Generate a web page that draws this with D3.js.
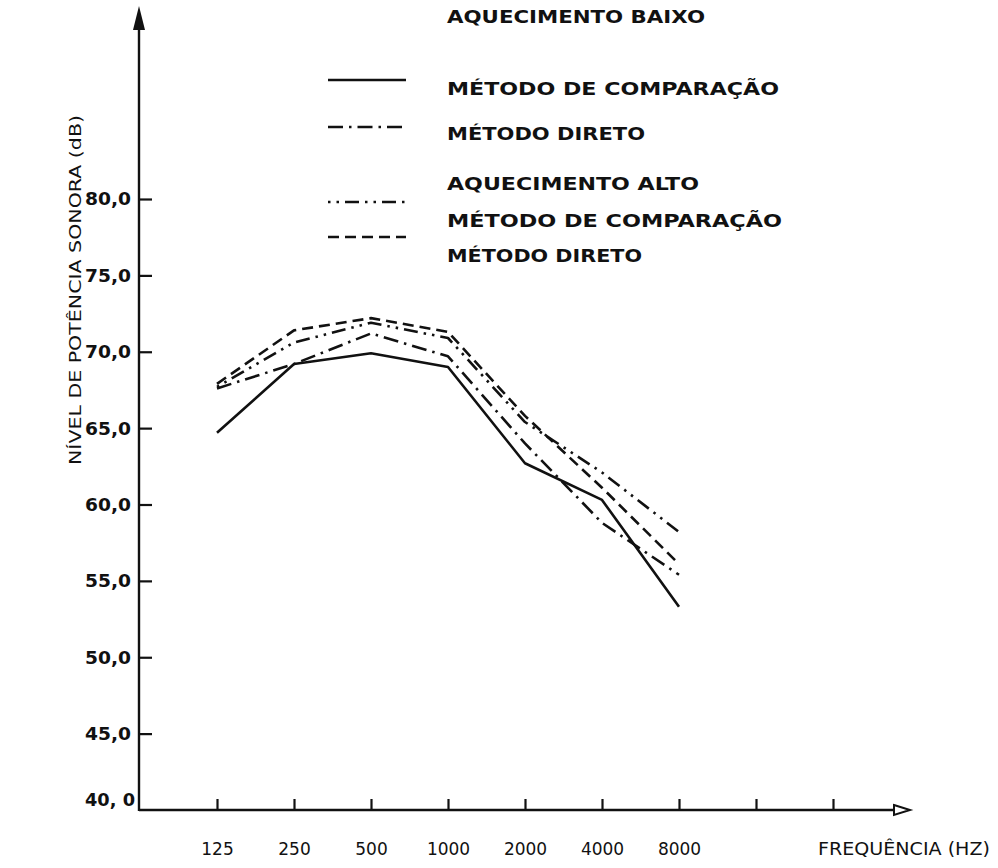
<!DOCTYPE html>
<html>
<head>
<meta charset="utf-8">
<script src="https://cdn.jsdelivr.net/npm/d3@7"></script>
<style>
  html, body { margin: 0; padding: 0; background: #fff; }
  svg { display: block; }
  text { font-family: "DejaVu Sans", sans-serif; fill: #111; }
</style>
</head>
<body>
<svg id="chart" width="998" height="868"></svg>
<script>
// Frequency bands (Hz) and the extra unlabelled ticks on the axis
const freqLabels = ["125", "250", "500", "1000", "2000", "4000", "8000"];
const xTickLabels = ["125", "250", "500", "1000", "2000", "4000", "8000", "", ""];
const yTickValues = [40, 45, 50, 55, 60, 65, 70, 75, 80];

// Sound power level (dB) per band
const baixoComparacao = [64.7, 69.2, 69.9, 69.0, 62.7, 60.3, 53.3];
const baixoDireto     = [67.6, 69.2, 71.2, 69.7, 64.0, 58.8, 55.4];
const altoComparacao  = [67.7, 70.6, 71.9, 70.9, 65.4, 62.1, 58.2];
const altoDireto      = [67.9, 71.4, 72.2, 71.3, 65.8, 61.1, 56.1];

const seriesNames = ["baixoComparacao", "baixoDireto", "altoComparacao", "altoDireto"];
const legendGroups = ["AQUECIMENTO  BAIXO", "AQUECIMENTO  ALTO"];
const legendLabels = ["MÉTODO  DE  COMPARAÇÃO", "MÉTODO  DIRETO", "MÉTODO  DE  COMPARAÇÃO", "MÉTODO  DIRETO"];

const series = [
  { name: seriesNames[0], values: baixoComparacao, dash: null },
  { name: seriesNames[1], values: baixoDireto,     dash: "15,6,2.5,6" },
  { name: seriesNames[2], values: altoComparacao,  dash: "2.5,6,2.5,6,14,6" },
  { name: seriesNames[3], values: altoDireto,      dash: "11,6" }
];

const svg = d3.select("#chart");

const x = d3.scaleLinear().domain([0, xTickLabels.length - 1]).range([217, 833]);
const y = d3.scaleLinear().domain([40, 80]).range([810, 199]);
const x0 = 139;

// Y axis with inward ticks
const yAxis = d3.axisLeft(y)
  .tickValues(yTickValues.filter(v => v > 40))
  .tickSize(-13)
  .tickSizeOuter(0)
  .tickPadding(20)
  .tickFormat(v => d3.format(".1f")(v).replace(".", ","));

const gy = svg.append("g").attr("transform", `translate(${x0},0)`).call(yAxis);
gy.select(".domain").remove();
gy.selectAll(".tick line").attr("stroke", "#111").attr("stroke-width", 2.2);
gy.selectAll(".tick text")
  .style("font-size", "17px").style("font-weight", "bold")
  .attr("x", -8).attr("dy", "0.35em")
  .attr("textLength", 46).attr("lengthAdjust", "spacingAndGlyphs");

// Origin label
svg.append("text")
  .attr("x", x0 - 4).attr("y", y(40) - 4)
  .attr("text-anchor", "end")
  .style("font-size", "17px").style("font-weight", "bold")
  .attr("textLength", 50).attr("lengthAdjust", "spacingAndGlyphs")
  .text(d3.format(".1f")(yTickValues[0]).replace(".", ", "));

// Vertical axis line with arrow
svg.append("line").attr("x1", x0).attr("x2", x0).attr("y1", y(40) + 1).attr("y2", 22)
  .attr("stroke", "#111").attr("stroke-width", 2.4);
svg.append("path").attr("d", `M${x0},6 L${x0 - 6},30 L${x0 + 6},30 Z`).attr("fill", "#111");

// X axis with upward ticks
const xAxis = d3.axisBottom(x)
  .tickValues(d3.range(xTickLabels.length))
  .tickSize(-11)
  .tickSizeOuter(0)
  .tickFormat(i => xTickLabels[i]);

const gx = svg.append("g").attr("transform", `translate(0,${y(40)})`).call(xAxis);
gx.select(".domain").remove();
gx.selectAll(".tick line").attr("stroke", "#111").attr("stroke-width", 2.2);
gx.selectAll(".tick text")
  .style("font-size", "17px")
  .attr("y", 45).attr("dy", "0");

svg.append("line").attr("x1", x0).attr("x2", 896).attr("y1", y(40)).attr("y2", y(40))
  .attr("stroke", "#111").attr("stroke-width", 2.6);
svg.append("path").attr("d", `M894,${y(40) - 5} L910,${y(40)} L894,${y(40) + 5} Z`)
  .attr("fill", "#fff").attr("stroke", "#111").attr("stroke-width", 2);

svg.append("text").attr("x", 818).attr("y", 855)
  .style("font-size", "17px")
  .attr("textLength", 172).attr("lengthAdjust", "spacingAndGlyphs")
  .text("FREQUÊNCIA (HZ)");

// Y axis title
svg.append("text")
  .attr("transform", "translate(81,290) rotate(-90)")
  .attr("text-anchor", "middle")
  .style("font-size", "16px")
  .attr("textLength", 350).attr("lengthAdjust", "spacingAndGlyphs")
  .text("NÍVEL DE POTÊNCIA SONORA  (dB)");

// Curves
const line = d3.line()
  .x((d, i) => x(i))
  .y(d => y(d));

svg.append("g").selectAll("path")
  .data(series)
  .join("path")
  .attr("d", d => line(d.values))
  .attr("fill", "none")
  .attr("stroke", "#111")
  .attr("stroke-width", 2.6)
  .attr("stroke-linejoin", "round")
  .attr("stroke-dasharray", d => d.dash);

// Legend
const legendRows = [
  { type: "group", text: legendGroups[0], y: 23 },
  { type: "item", s: 0, text: legendLabels[0], y: 95, ly: 80 },
  { type: "item", s: 1, text: legendLabels[1], y: 140, ly: 127 },
  { type: "group", text: legendGroups[1], y: 190 },
  { type: "item", s: 2, text: legendLabels[2], y: 227, ly: 202 },
  { type: "item", s: 3, text: legendLabels[3], y: 262, ly: 237 }
];
const widths = [258, 332, 198, 252, 335, 195];

const lg = svg.append("g");
legendRows.forEach((r, i) => {
  lg.append("text").attr("x", 447).attr("y", r.y)
    .style("font-size", "17px").style("font-weight", r.type === "group" ? "bold" : "bold")
    .attr("textLength", widths[i]).attr("lengthAdjust", "spacingAndGlyphs")
    .text(r.text);
  if (r.type === "item") {
    lg.append("line").attr("x1", 328).attr("x2", 406).attr("y1", r.ly).attr("y2", r.ly)
      .attr("stroke", "#111").attr("stroke-width", 2.6)
      .attr("stroke-dasharray", series[r.s].dash);
  }
});
</script>
</body>
</html>
